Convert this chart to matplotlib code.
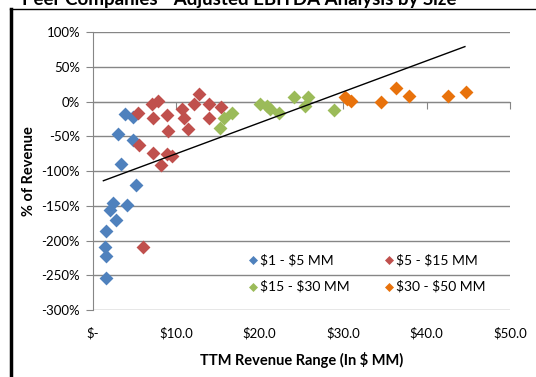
import numpy as np
import matplotlib
matplotlib.use("Agg")
import matplotlib.pyplot as plt
from matplotlib.ticker import FuncFormatter
from matplotlib.lines import Line2D

plt.rcParams['font.family'] = ['Lato', 'DejaVu Sans']

# revenue ($MM) vs adjusted EBITDA margin (%) by size bucket
small_x = [3.9, 4.8, 3.0, 4.8, 3.4, 5.2, 2.5, 4.1, 2.1, 2.8, 1.6, 1.5, 1.6, 1.6]
small_y = [-18, -23, -47, -55, -90, -120, -146, -149, -156, -170, -187, -210, -223, -254]

mid_x = [5.5, 7.1, 7.9, 7.3, 8.9, 9.0, 5.6, 7.3, 8.9, 9.5, 8.2, 10.7, 11.0,
         11.4, 12.2, 12.8, 14.0, 14.0, 15.4, 6.0]
mid_y = [-16, -4, 1, -24, -19, -42, -63, -74, -76, -79, -91, -11, -24,
         -39, -3, 11, -3, -24, -8, -209]

large_x = [15.3, 15.7, 16.7, 20.1, 20.9, 21.3, 22.3, 24.1, 25.4, 25.8, 28.9]
large_y = [-38, -24, -17, -3, -6, -11, -17, 7, -7, 7, -12]

xl_x = [30.2, 30.5, 30.9, 34.6, 36.4, 37.9, 42.6, 44.7]
xl_y = [7, 4, 1, 0, 20, 8, 8, 13]

# linear trendline end points
trend_x = [1.3, 44.6]
trend_y = [-114, 79]

labels = [r'\$1 - \$5 MM', r'\$5 - \$15 MM', r'\$15 - \$30 MM', r'\$30 - \$50 MM']
colors = ['#4F81BD', '#C0504D', '#9BBB59', '#E8720C']

fig = plt.figure(figsize=(5.36, 3.77), dpi=100)
ax = fig.add_axes([0.1726, 0.1777, 0.9515 - 0.1726, 0.9151 - 0.1777])

series = [(small_x, small_y), (mid_x, mid_y), (large_x, large_y), (xl_x, xl_y)]
handles = []
for (xs, ys), lab, c in zip(series, labels, colors):
    h = ax.scatter(xs, ys, marker='D', s=50, color=c, label=lab, zorder=3, linewidths=0)
    handles.append(h)

ax.plot(trend_x, trend_y, color='black', lw=1, zorder=4)

ax.set_xlim(0, 50)
ax.set_ylim(-300, 100)
ax.set_yticks(np.arange(-300, 101, 50))
ax.yaxis.set_major_formatter(FuncFormatter(lambda v, p: f'{v:.0f}%'))
ax.set_xticks(np.arange(0, 51, 10))

grey = '#868686'
ax.grid(axis='y', color=grey, lw=1)
ax.set_axisbelow(True)
for s in ['top', 'right']:
    ax.spines[s].set_visible(False)
ax.spines['left'].set_color(grey)
ax.spines['bottom'].set_color(grey)
ax.spines['bottom'].set_position(('data', 0))
ax.tick_params(axis='y', direction='out', length=5, color=grey, labelsize=9.5, pad=4)
ax.tick_params(axis='x', direction='out', length=5, color=grey, labelbottom=False)

# dollar labels along the bottom edge
sec = ax.secondary_xaxis('bottom')
sec.set_xticks(np.arange(0, 51, 10))
sec.xaxis.set_major_formatter(FuncFormatter(lambda v, p: r'\$-' if v == 0 else rf'\${v:.1f}'))
sec.tick_params(length=0, labelsize=9.5, pad=12)
sec.spines['bottom'].set_visible(False)
sec.set_xlabel('TTM Revenue Range (In \\$ MM)', fontsize=10.5, fontweight='bold', labelpad=9)

ax.set_ylabel('% of Revenue', fontsize=10.5, fontweight='bold', labelpad=4)

# legend filled row by row: small, mid / large, xl
order = [0, 2, 1, 3]
ax.legend([handles[i] for i in order], [labels[i] for i in order],
          loc='center left', bbox_to_anchor=(0.35, 0.133), ncol=2, frameon=False,
          fontsize=10, handletextpad=0.05, columnspacing=2.3, labelspacing=1.0,
          markerscale=0.65, handlelength=1.0, borderpad=0)

# chart border
fig.add_artist(Line2D([0.0187, 1.0], [0.975, 0.975], color='black', lw=1,
                      transform=fig.transFigure))
fig.add_artist(Line2D([0.0205, 0.0205], [0.0, 0.975], color='black', lw=2.5,
                      transform=fig.transFigure))

fig.text(0.041, 1 - 5 / 377, 'Peer Companies - Adjusted EBITDA Analysis by Size',
         fontsize=13.5, fontweight='bold', va='baseline', ha='left')

fig.savefig('out.png', dpi=100)
